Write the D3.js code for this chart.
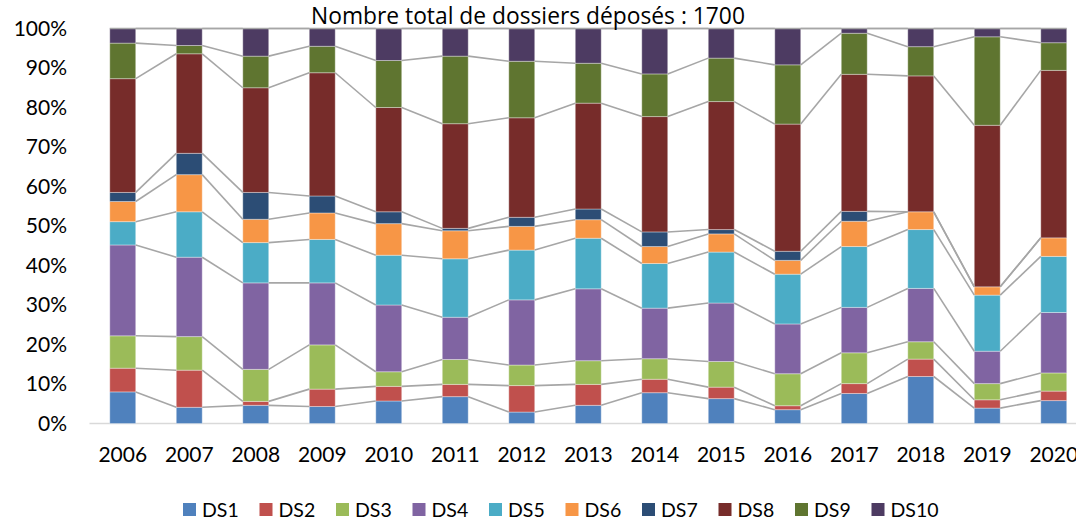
<!DOCTYPE html>
<html>
<head>
<meta charset="utf-8">
<script src="https://cdn.jsdelivr.net/npm/d3@7"></script>
<style>
  body { margin: 0; background: #fff; }
  text { font-family: Lato, "Open Sans", sans-serif; fill: #000; }
</style>
</head>
<body>
<div id="chart"></div>
<script>
// years on the x axis
var years = ["2006", "2007", "2008", "2009", "2010", "2011", "2012", "2013",
             "2014", "2015", "2016", "2017", "2018", "2019", "2020"];

var seriesNames = ["DS1", "DS2", "DS3", "DS4", "DS5", "DS6", "DS7", "DS8", "DS9", "DS10"];

// share of each series per year (%)
var ds1  = [8.0, 4.1, 4.6, 4.3, 5.7, 6.8, 2.9, 4.6, 7.8, 6.3, 3.5, 7.6, 11.9, 3.9, 5.8];
var ds2  = [6.0, 9.4, 1.0, 4.4, 3.7, 3.1, 6.7, 5.3, 3.4, 2.9, 1.0, 2.5, 4.4, 2.1, 2.4];
var ds3  = [8.2, 8.5, 8.1, 11.2, 3.7, 6.3, 5.2, 6.0, 5.2, 6.5, 8.1, 7.8, 4.4, 4.1, 4.6];
var ds4  = [23.0, 20.1, 21.9, 15.7, 16.9, 10.7, 16.5, 18.2, 12.8, 14.8, 12.6, 11.5, 13.5, 8.2, 15.3];
var ds5  = [5.9, 11.5, 10.2, 11.0, 12.6, 14.8, 12.6, 12.8, 11.3, 12.9, 12.6, 15.4, 14.9, 14.2, 14.2];
var ds6  = [5.1, 9.4, 5.9, 6.7, 8.0, 7.1, 6.0, 4.7, 4.3, 4.6, 3.5, 6.4, 4.5, 2.1, 4.7];
var ds7  = [2.3, 5.4, 6.8, 4.3, 3.0, 0.6, 2.3, 2.7, 3.7, 1.1, 2.3, 2.5, 0, 0, 0];
var ds8  = [28.8, 25.2, 26.5, 31.2, 26.4, 26.5, 25.2, 26.8, 29.2, 32.4, 32.2, 34.7, 34.4, 40.9, 42.4];
var ds9  = [9.0, 2.1, 8.0, 6.7, 11.9, 17.1, 14.3, 10.1, 10.8, 11.0, 15.0, 10.4, 7.4, 22.4, 7.0];
var ds10 = [3.7, 4.3, 7.0, 4.5, 8.1, 7.0, 8.3, 8.8, 11.5, 7.5, 9.2, 1.2, 4.6, 2.1, 3.6];

var yTicks = [0, 0.1, 0.2, 0.3, 0.4, 0.5, 0.6, 0.7, 0.8, 0.9, 1];

var title = "Nombre total de dossiers déposés : 1700";

/** one row per year, used by d3.stack **/
var allSeries = [ds1, ds2, ds3, ds4, ds5, ds6, ds7, ds8, ds9, ds10];
var rows = years.map(function (yr, i) {
    var row = { year: yr };
    seriesNames.forEach(function (name, k) { row[name] = allSeries[k][i]; });
    return row;
});

var colors = d3.scaleOrdinal()
    .domain(seriesNames)
    .range(["#4F81BD", "#C0504D", "#9BBB59", "#8064A2", "#4BACC6",
            "#F79646", "#2C4D75", "#772C2A", "#5F7530", "#4D3B62"]);

var width = 1076, height = 521;

var x = d3.scaleBand()
    .domain(years)
    .range([89.5, 1087])
    .paddingInner(0.61)
    .paddingOuter(0.305);

var y = d3.scaleLinear()
    .domain([0, 1])
    .range([423.5, 28.5]);

var stack = d3.stack().keys(seriesNames).offset(d3.stackOffsetExpand);
var series = stack(rows);

var svg = d3.select("#chart").append("svg")
    .attr("width", width)
    .attr("height", height);

// baseline
svg.append("line")
    .attr("x1", x.range()[0]).attr("x2", x.range()[1])
    .attr("y1", y(0)).attr("y2", y(0))
    .style("stroke", "#D9D9D9")
    .style("stroke-width", "1.5px");

// bars
svg.append("g").attr("class", "bars")
    .selectAll("g")
    .data(series)
    .enter().append("g")
    .attr("fill", function (d) { return colors(d.key); })
    .selectAll("rect")
    .data(function (d) { return d; })
    .enter().append("rect")
    .attr("x", function (d) { return x(d.data.year); })
    .attr("width", x.bandwidth())
    .attr("y", function (d) { return y(d[1]); })
    .attr("height", function (d) { return y(d[0]) - y(d[1]); })
    .style("stroke", "rgba(255,255,255,0.35)")
    .style("stroke-width", "1px");

// series lines between neighbouring bars (top edge of each segment)
var lineG = svg.append("g").attr("class", "seriesLines");
series.forEach(function (s) {
    for (var i = 0; i < s.length - 1; i++) {
        lineG.append("line")
            .attr("x1", x(s[i].data.year) + x.bandwidth())
            .attr("y1", y(s[i][1]))
            .attr("x2", x(s[i + 1].data.year))
            .attr("y2", y(s[i + 1][1]))
            .style("stroke", "#A6A6A6")
            .style("stroke-width", "1.6px");
    }
});
// top edge line across the bars at 100%
lineG.append("line")
    .attr("x1", x(years[0])).attr("x2", x(years[years.length - 1]) + x.bandwidth())
    .attr("y1", y(1)).attr("y2", y(1))
    .style("stroke", "#A6A6A6")
    .style("stroke-width", "1.6px");

// y axis labels
var yAxis = svg.append("g")
    .attr("transform", "translate(75,0)")
    .call(d3.axisLeft(y).tickValues(yTicks).tickFormat(d3.format(".0%")).tickSize(0).tickPadding(8));
yAxis.select(".domain").remove();
yAxis.selectAll("text").style("font-size", "21px").style("font-family", "Lato, sans-serif");

// x axis labels
var xAxis = svg.append("g")
    .attr("transform", "translate(0," + y(0) + ")")
    .call(d3.axisBottom(x).tickSize(0).tickPadding(24));
xAxis.select(".domain").remove();
xAxis.selectAll("text").style("font-size", "21px").style("font-family", "Lato, sans-serif");

// title
svg.append("text")
    .attr("x", 528)
    .attr("y", 24)
    .style("text-anchor", "middle")
    .style("font-family", "'Open Sans', sans-serif")
    .style("font-size", "22.8px")
    .text(title);

// legend
var legend = svg.append("g").attr("class", "legend")
    .selectAll("g")
    .data(seriesNames)
    .enter().append("g")
    .attr("transform", function (d, i) { return "translate(" + (183 + i * 76.5) + ",503)"; });

legend.append("rect")
    .attr("width", 13)
    .attr("height", 13)
    .attr("fill", function (d) { return colors(d); });

legend.append("text")
    .attr("x", 19)
    .attr("y", 13.5)
    .style("font-size", "19.5px")
    .text(function (d) { return d; });
</script>
</body>
</html>
